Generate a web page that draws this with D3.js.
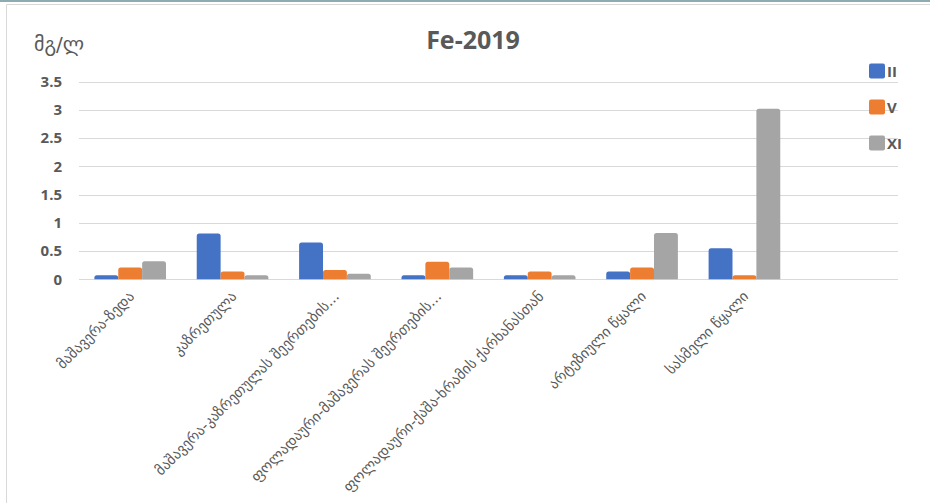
<!DOCTYPE html>
<html>
<head>
<meta charset="utf-8">
<script src="https://cdn.jsdelivr.net/npm/d3@7/dist/d3.min.js"></script>
<style>
  html, body { margin: 0; padding: 0; background: #fff; }
  svg { display: block; }
</style>
</head>
<body>
<div id="chart"></div>
<script>
// Sampling sites (last slot intentionally empty, as in the source sheet)
const categories = [
  "მაშავერა-ზედა",
  "კაზრეთულა",
  "მაშავერა-კაზრეთულას შეერთების...",
  "ფოლადაური-მაშავერას შეერთების...",
  "ფოლადაური-ქაშა-ხრამის ქარხანასთან",
  "არტეზიული წყალი",
  "სასმელი წყალი",
  ""
];
const seriesNames = ["II", "V", "XI"];
const valuesII = [0.07, 0.81, 0.65, 0.07, 0.07, 0.14, 0.55, null];
const valuesV  = [0.21, 0.14, 0.165, 0.31, 0.14, 0.21, 0.07, null];
const valuesXI = [0.32, 0.07, 0.10, 0.21, 0.07, 0.82, 3.02, null];
const yTicks = [0, 0.5, 1, 1.5, 2, 2.5, 3, 3.5];
const colors = ["#4472C4", "#ED7D31", "#A5A5A5"];

const W = 930, H = 503;
const plot = { left: 79, right: 898, top: 81.7, bottom: 279.3 };

const svg = d3.select("#chart").append("svg")
  .attr("width", W).attr("height", H);

// Frame of the chart area
svg.append("rect").attr("x", 0).attr("y", 0).attr("width", W).attr("height", 2)
  .attr("fill", "#8fabb2");
svg.append("path")
  .attr("d", `M6.5,${H} V4.5 H${W}`)
  .attr("fill", "none").attr("stroke", "#d9d9d9").attr("stroke-width", 1);

const x = d3.scaleBand()
  .domain(categories.map((c, i) => i))
  .range([plot.left, plot.right])
  .paddingInner(0.3).paddingOuter(0.15);

const xs = d3.scaleBand()
  .domain(seriesNames)
  .range([0, x.bandwidth()])
  .padding(0);

const y = d3.scaleLinear().domain([0, 3.5]).range([plot.bottom, plot.top]);

// Horizontal gridlines
svg.append("g").selectAll("line").data(yTicks).join("line")
  .attr("x1", plot.left).attr("x2", plot.right)
  .attr("y1", d => Math.round(y(d)) + 0.5).attr("y2", d => Math.round(y(d)) + 0.5)
  .attr("stroke", "#d9d9d9").attr("stroke-width", 1.2);

// Y axis labels
const yAxis = d3.axisLeft(y).tickValues(yTicks).tickSize(0).tickPadding(0)
  .tickFormat(d => d === 0 ? "0" : String(d));
const gy = svg.append("g").attr("transform", `translate(62,0)`).call(yAxis);
gy.select(".domain").remove();
gy.selectAll("text")
  .attr("fill", "#595959")
  .style("font-family", "'Open Sans', 'Liberation Sans', sans-serif")
  .style("font-weight", "bold")
  .style("font-size", "15px");

// Bars with rounded top corners
function barPath(x0, w, yTop, yBase, r) {
  const h = yBase - yTop;
  r = Math.min(r, h, w / 2);
  return `M${x0},${yBase} V${yTop + r} Q${x0},${yTop} ${x0 + r},${yTop} ` +
         `H${x0 + w - r} Q${x0 + w},${yTop} ${x0 + w},${yTop + r} V${yBase} Z`;
}

const seriesData = [valuesII, valuesV, valuesXI];
seriesData.forEach((vals, si) => {
  svg.append("g").selectAll("path")
    .data(vals.map((v, i) => ({ v, i })).filter(d => d.v != null))
    .join("path")
    .attr("d", d => barPath(x(d.i) + xs(seriesNames[si]), xs.bandwidth(), y(d.v), y(0), 2.5))
    .attr("fill", colors[si]);
});

// Category labels, rotated
const gx = svg.append("g");
categories.forEach((c, i) => {
  if (!c) return;
  const cx = x(i) + x.bandwidth() / 2 + 5;
  gx.append("text")
    .attr("transform", `translate(${cx},${plot.bottom + 18}) rotate(-45)`)
    .attr("text-anchor", "end")
    .attr("fill", "#595959")
    .style("font-family", "'DejaVu Sans', sans-serif")
    .style("font-size", "14.5px")
    .text(c);
});

// Title and unit
svg.append("text")
  .attr("x", 473).attr("y", 49)
  .attr("text-anchor", "middle")
  .attr("fill", "#595959")
  .style("font-family", "'Open Sans', 'Liberation Sans', sans-serif")
  .style("font-weight", "bold")
  .style("font-size", "25px")
  .text("Fe-2019");

svg.append("text")
  .attr("x", 34).attr("y", 51)
  .attr("fill", "#595959")
  .style("font-family", "'DejaVu Sans', sans-serif")
  .style("font-size", "20px")
  .text("მგ/ლ");

// Legend
const legend = svg.append("g");
seriesNames.forEach((s, i) => {
  const ly = 71 + i * 36;
  legend.append("rect")
    .attr("x", 869).attr("y", ly - 7.5).attr("width", 16).attr("height", 15)
    .attr("rx", 2).attr("fill", colors[i]);
  legend.append("text")
    .attr("x", 887).attr("y", ly + 5.5)
    .attr("fill", "#595959")
    .style("font-family", "'Open Sans', 'Liberation Sans', sans-serif")
    .style("font-weight", "bold")
    .style("font-size", "15px")
    .text(s);
});
</script>
</body>
</html>
